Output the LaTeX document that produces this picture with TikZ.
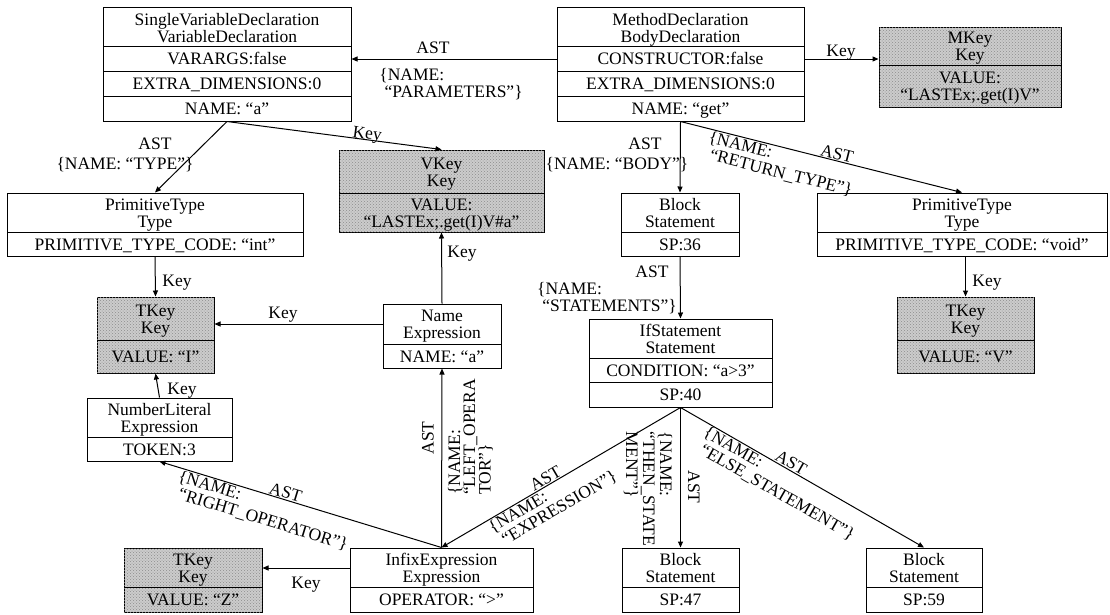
\documentclass[tikz,border=0pt]{standalone}
\usepackage{fontspec}
\setmainfont{Liberation Serif}
\usetikzlibrary{arrows.meta,fit,patterns}

\begin{document}
\begin{tikzpicture}[x=1pt,y=-1pt,
  font=\fontsize{17.5}{17}\selectfont,
  line width=1pt,
  box/.style={draw, inner sep=0pt, line width=1pt},
  keybox/.style={box, fill=black!20, postaction={pattern=crosshatch dots, pattern color=black!45}},
  cell/.style={inner sep=0pt, align=center, text height=12pt, text depth=0pt},
  lbl/.style={inner sep=1pt, align=left, text height=12pt, text depth=0pt},
  two/.style={text height=29pt},
  three/.style={text height=46pt},
  arr/.style={-{Triangle[length=6pt,width=5pt]}},
  rarr/.style={{Triangle[length=6pt,width=5pt]}-},
]
\useasboundingbox (0,0) rectangle (1110,614);

% ---------- declaration boxes ----------
\node[box, fit={(103,7)(351,121)}] (svd) {};
\draw (103,46) -- (351,46) (103,71) -- (351,71) (103,96) -- (351,96);
\node[cell, two] (svd-a) at (227,28) {SingleVariableDeclaration\\VariableDeclaration};
\node[cell] (svd-b) at (227,58.5) {VARARGS:false};
\node[cell] (svd-c) at (227,83.5) {EXTRA\_DIMENSIONS:0};
\node[cell] (svd-d) at (227,108.5) {NAME: “a”};

\node[box, fit={(557,7)(804,121)}] (md) {};
\draw (557,46) -- (804,46) (557,71) -- (804,71) (557,96) -- (804,96);
\node[cell, two] (md-a) at (680.5,28) {MethodDeclaration\\BodyDeclaration};
\node[cell] (md-b) at (680.5,58.5) {CONSTRUCTOR:false};
\node[cell] (md-c) at (680.5,83.5) {EXTRA\_DIMENSIONS:0};
\node[cell] (md-d) at (680.5,108.5) {NAME: “get”};

\node[keybox, fit={(879,27)(1061,107)}] (mkey) {};
\draw (879,65) -- (1061,65);
\node[cell, two] (mkey-a) at (970,46) {MKey\\Key};
\node[cell, two] (mkey-b) at (970,86) {VALUE:\\“LASTEx;.get(I)V”};

% ---------- type boxes ----------
\node[box, fit={(7,193)(303,256)}] (ptl) {};
\draw (7,232) -- (303,232);
\node[cell, two] (ptl-a) at (155,212.5) {PrimitiveType\\Type};
\node[cell] (ptl-b) at (155,244) {PRIMITIVE\_TYPE\_CODE: “int”};

\node[keybox, fit={(339,150)(544,232)}] (vkey) {};
\draw (339,193) -- (544,193);
\node[cell, two] (vkey-a) at (441.5,171.5) {VKey\\Key};
\node[cell, two] (vkey-b) at (441.5,212.5) {VALUE:\\“LASTEx;.get(I)V\#a”};

\node[box, fit={(621,193)(739,256)}] (b36) {};
\draw (621,232) -- (739,232);
\node[cell, two] (b36-a) at (680,212.5) {Block\\Statement};
\node[cell] (b36-b) at (680,244) {SP:36};

\node[box, fit={(817,193)(1107,256)}] (ptr) {};
\draw (817,232) -- (1107,232);
\node[cell, two] (ptr-a) at (962,212.5) {PrimitiveType\\Type};
\node[cell] (ptr-b) at (962,244) {PRIMITIVE\_TYPE\_CODE: “void”};

% ---------- key boxes and expressions ----------
\node[keybox, fit={(97,297)(214,373)}] (tkl) {};
\draw (97,340) -- (214,340);
\node[cell, two] (tkl-a) at (155.5,318.5) {TKey\\Key};
\node[cell] (tkl-b) at (155.5,356.5) {VALUE: “I”};

\node[box, fit={(383,304)(501,368)}] (ne) {};
\draw (383,344) -- (501,344);
\node[cell, two] (ne-a) at (442,324) {Name\\Expression};
\node[cell] (ne-b) at (442,356) {NAME: “a”};

\node[keybox, fit={(897,297)(1034,373)}] (tkr) {};
\draw (897,340) -- (1034,340);
\node[cell, two] (tkr-a) at (965.5,318.5) {TKey\\Key};
\node[cell] (tkr-b) at (965.5,356.5) {VALUE: “V”};

\node[box, fit={(589,319)(772,407)}] (ifs) {};
\draw (589,358) -- (772,358) (589,382) -- (772,382);
\node[cell, two] (ifs-a) at (680.5,338.5) {IfStatement\\Statement};
\node[cell] (ifs-b) at (680.5,370) {CONDITION: “a>3”};
\node[cell] (ifs-c) at (680.5,394.5) {SP:40};

\node[box, fit={(87,398)(232,461)}] (nl) {};
\draw (87,437) -- (232,437);
\node[cell, two] (nl-a) at (159.5,417.5) {NumberLiteral\\Expression};
\node[cell] (nl-b) at (159.5,449) {TOKEN:3};

% ---------- bottom row ----------
\node[keybox, fit={(124,548)(262,612)}] (tkz) {};
\draw (124,587) -- (262,587);
\node[cell, two] (tkz-a) at (193,567.5) {TKey\\Key};
\node[cell] (tkz-b) at (193,599.5) {VALUE: “Z”};

\node[box, fit={(350,548)(533,612)}] (infix) {};
\draw (350,587) -- (533,587);
\node[cell, two] (infix-a) at (441.5,567.5) {InfixExpression\\Expression};
\node[cell] (infix-b) at (441.5,599.5) {OPERATOR: “>”};

\node[box, fit={(622,548)(739,612)}] (b47) {};
\draw (622,587) -- (739,587);
\node[cell, two] (b47-a) at (680.5,567.5) {Block\\Statement};
\node[cell] (b47-b) at (680.5,599.5) {SP:47};

\node[box, fit={(866,548)(982,612)}] (b59) {};
\draw (866,587) -- (982,587);
\node[cell, two] (b59-a) at (924,567.5) {Block\\Statement};
\node[cell] (b59-b) at (924,599.5) {SP:59};

% ---------- connectors ----------
% MethodDeclaration -> parameters
\draw[arr] ([yshift=5pt]md.west) -- ([yshift=5pt]md.west -| svd.east);
\node[lbl] (l-par-ast) at (433,47) {AST};
\node[lbl, two] (l-par) at (451,83) {\{NAME:\\\hspace{0.3em}“PARAMETERS”\}};

% MethodDeclaration -> method key
\draw[arr] ([yshift=5pt]md.east) -- ([yshift=5pt]md.east -| mkey.west);
\node[lbl] (l-mkey) at (841,50) {Key};

% parameter -> type, parameter -> variable key
\draw[arr] (svd.south) -- (ptl.north);
\node[lbl] (l-type-ast) at (155,143) {AST};
\node[lbl] (l-type) at (125,163) {\{NAME: “TYPE”\}};
\draw[arr] (svd.south) -- node[sloped, above, pos=0.65, inner sep=0pt, text height=12pt, text depth=0pt] (l-vkey) {Key} (vkey.north);

% type -> type key
\draw[arr] (ptl.south) -- (tkl.north);
\node[lbl] (l-tkl) at (177,280) {Key};

% name expression keys
\draw[arr] ([yshift=12pt]ne.west) -- ([yshift=12pt]ne.west -| tkl.east);
\node[lbl] (l-ne-tkl) at (283,312) {Key};
\draw[arr] (ne.north) -- (vkey.south);
\node[lbl] (l-ne-vkey) at (462,251) {Key};

% number literal -> type key
\draw[arr] (nl.north) -- (tkl.south);
\node[lbl] (l-nl) at (182,388) {Key};

% MethodDeclaration -> body
\draw[arr] (md.south) -- (b36.north);
\node[lbl] (l-body-ast) at (645,143) {AST};
\node[lbl] (l-body) at (617,163) {\{NAME: “BODY”\}};

% MethodDeclaration -> return type
\draw[arr] (md.south) --
  node[sloped, above, pos=0.55, lbl] (l-ret-ast) {AST}
  node[sloped, below, pos=0.37, lbl, two] (l-ret) {\{NAME:\\\hspace{0.3em}“RETURN\_TYPE”\}}
  (ptr.north);
\draw[arr] (tkr.north |- ptr.south) -- (tkr.north);
\node[lbl] (l-tkr) at (987,280) {Key};

% block -> if statement
\draw[arr] (b36.south) -- (ifs.north);
\node[lbl] (l-st-ast) at (652,271) {AST};
\node[lbl, two] (l-st) at (607,297) {\{NAME:\\\hspace{0.3em}“STATEMENTS”\}};

% if statement children
\draw[rarr] (infix.north) --
  node[sloped, above, pos=0.45, lbl] (l-ex-ast) {AST}
  node[sloped, below, pos=0.43, lbl, two] (l-ex) {\{NAME:\\\hspace{0.3em}“EXPRESSION”\}}
  (ifs.south);
\draw[arr] (ifs.south) -- (b47.north);
\node[lbl, rotate=-90] (l-then-ast) at (694,487) {AST};
\node[lbl, rotate=-90, three] (l-then) at (649,489) {\{NAME:\\“THEN\_STATE\\MENT”\}};
\draw[arr] (ifs.south) --
  node[sloped, above, pos=0.44, lbl] (l-else-ast) {AST}
  node[sloped, below, pos=0.44, lbl, two] (l-else) {\{NAME:\\\hspace{0.3em}“ELSE\_STATEMENT”\}}
  (b59.north);

% infix expression operands
\draw[rarr] (nl.south) --
  node[sloped, above, pos=0.44, lbl] (l-ro-ast) {AST}
  node[sloped, below, pos=0.385, lbl, two] (l-ro) {\{NAME:\\\hspace{0.3em}“RIGHT\_OPERATOR”\}}
  (infix.north);
\draw[arr] (infix.north) -- (ne.south);
\node[lbl, rotate=90] (l-lo-ast) at (427.5,438) {AST};
\node[lbl, rotate=90, text height=39pt, font=\fontsize{17.5}{13.5}\selectfont] (l-lo) at (471,437) {\{NAME:\\“LEFT\_OPERA\\TOR”\}};

% infix expression -> key
\draw[arr] ([yshift=12pt]infix.west) -- ([yshift=12pt]infix.west -| tkz.east);
\node[lbl] (l-tkz) at (306,582) {Key};
\end{tikzpicture}
\end{document}
